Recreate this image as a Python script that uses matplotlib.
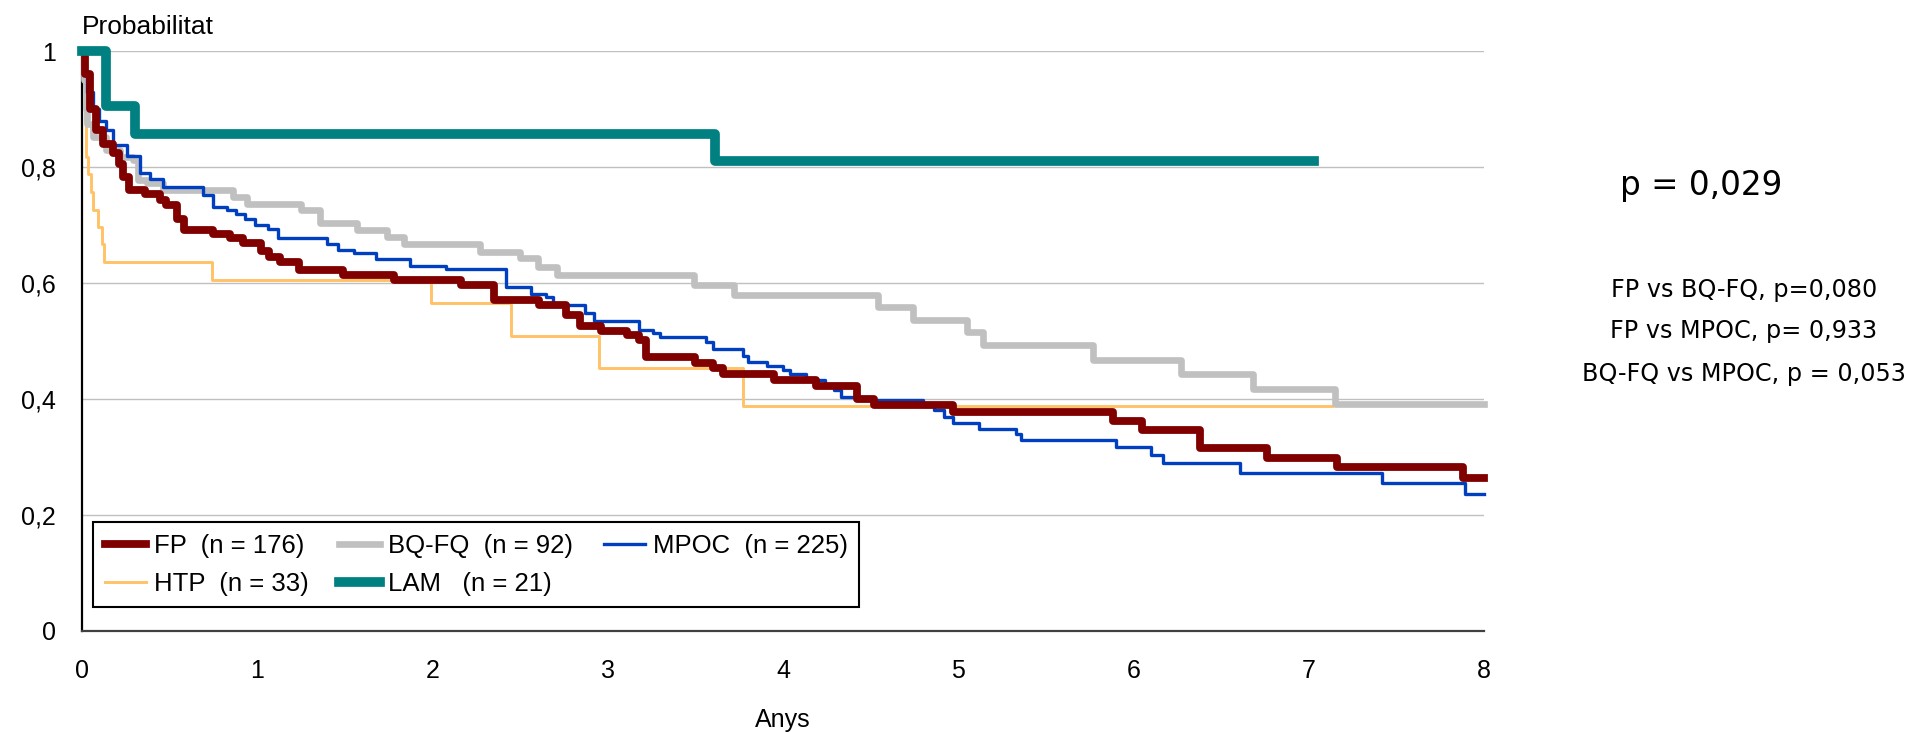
import matplotlib
matplotlib.use('Agg')
import matplotlib.pyplot as plt

# Kaplan-Meier style curves (time in years, survival after each drop)
fp_t = [0, 0.02, 0.045, 0.08, 0.12, 0.18, 0.21, 0.235, 0.27, 0.36, 0.445, 0.48, 0.54, 0.58,
        0.75, 0.845, 0.92, 1.02, 1.07, 1.13, 1.24, 1.49, 1.78, 2.16, 2.35, 2.61, 2.76, 2.84,
        2.96, 3.11, 3.18, 3.22, 3.50, 3.60, 3.66, 3.95, 4.19, 4.42, 4.52, 4.97, 5.88, 6.05,
        6.38, 6.76, 7.16, 7.88, 8.0]
fp_s = [1.0, 0.96, 0.90, 0.864, 0.84, 0.824, 0.806, 0.783, 0.76, 0.753, 0.743, 0.734, 0.71, 0.691,
        0.684, 0.677, 0.670, 0.655, 0.645, 0.637, 0.622, 0.614, 0.605, 0.597, 0.571, 0.562, 0.545, 0.526,
        0.517, 0.510, 0.502, 0.472, 0.463, 0.453, 0.443, 0.433, 0.423, 0.401, 0.390, 0.378, 0.363, 0.347,
        0.316, 0.299, 0.282, 0.264, 0.264]

bq_t = [0, 0.01, 0.025, 0.03, 0.065, 0.14, 0.22, 0.29, 0.32, 0.37, 0.46, 0.86, 0.94, 1.25,
        1.36, 1.57, 1.74, 1.84, 2.27, 2.50, 2.60, 2.71, 3.49, 3.72, 4.54, 4.74, 5.05, 5.14,
        5.77, 6.27, 6.68, 7.15, 8.0]
bq_s = [1.0, 0.95, 0.90, 0.875, 0.852, 0.829, 0.818, 0.812, 0.778, 0.772, 0.760, 0.749, 0.737, 0.726,
        0.703, 0.691, 0.680, 0.667, 0.654, 0.643, 0.628, 0.614, 0.596, 0.579, 0.558, 0.536, 0.516, 0.493,
        0.468, 0.444, 0.418, 0.391, 0.391]

mpoc_t = [0, 0.01, 0.03, 0.065, 0.10, 0.14, 0.18, 0.255, 0.33, 0.39, 0.46, 0.69, 0.75, 0.826,
          0.88, 0.93, 0.99, 1.06, 1.12, 1.40, 1.46, 1.55, 1.68, 1.87, 2.08, 2.42, 2.56, 2.65,
          2.69, 2.87, 2.92, 3.18, 3.26, 3.30, 3.56, 3.60, 3.77, 3.80, 3.91, 4.00, 4.04, 4.13,
          4.24, 4.29, 4.33, 4.42, 4.80, 4.86, 4.92, 4.97, 5.12, 5.33, 5.36, 5.90, 6.10, 6.17,
          6.61, 7.42, 7.89, 8.0]
mpoc_s = [1.0, 0.96, 0.93, 0.90, 0.88, 0.864, 0.838, 0.82, 0.79, 0.78, 0.766, 0.752, 0.732, 0.726,
          0.72, 0.711, 0.70, 0.694, 0.677, 0.668, 0.657, 0.652, 0.641, 0.629, 0.624, 0.594, 0.582, 0.576,
          0.562, 0.548, 0.535, 0.52, 0.514, 0.507, 0.499, 0.486, 0.475, 0.464, 0.457, 0.450, 0.443, 0.433,
          0.424, 0.416, 0.404, 0.398, 0.388, 0.381, 0.369, 0.359, 0.349, 0.339, 0.329, 0.317, 0.303, 0.289,
          0.273, 0.256, 0.236, 0.236]

htp_t = [0, 0.005, 0.015, 0.025, 0.035, 0.05, 0.065, 0.09, 0.115, 0.125, 0.74, 1.99, 2.45,
         2.95, 3.77, 7.13]
htp_s = [1.0, 0.939, 0.879, 0.818, 0.788, 0.758, 0.727, 0.697, 0.667, 0.636, 0.606, 0.566, 0.509,
         0.453, 0.388, 0.388]

lam_t = [0, 0.14, 0.30, 3.61, 7.03]
lam_s = [1.0, 0.905, 0.857, 0.81, 0.81]

labels = ['FP  (n = 176)', 'BQ-FQ  (n = 92)', 'MPOC  (n = 225)', 'HTP  (n = 33)', 'LAM   (n = 21)']
colors = ['#800000', '#C0C0C0', '#0040C0', '#FFC266', '#008080']
widths = [5.6, 4.8, 2.4, 2.1, 7.0]
zorders = [5, 3, 4, 2, 6]

x_ticks = [0, 1, 2, 3, 4, 5, 6, 7, 8]
y_ticks = [0, 0.2, 0.4, 0.6, 0.8, 1.0]
y_ticklabels = ['0', '0,2', '0,4', '0,6', '0,8', '1']

narrow = ['Liberation Sans Narrow', 'Liberation Sans', 'DejaVu Sans']

fig = plt.figure(figsize=(19.14, 7.32), dpi=100)
ax = fig.add_axes([0.0428, 0.138, 0.7326, 0.792])

series = [(fp_t, fp_s), (bq_t, bq_s), (mpoc_t, mpoc_s), (htp_t, htp_s), (lam_t, lam_s)]
handles = []
for (t, s), lab, c, w, z in zip(series, labels, colors, widths, zorders):
    h, = ax.step(t, s, where='post', color=c, lw=w, label=lab, zorder=z, clip_on=False)
    handles.append(h)

ax.set_xlim(0, 8)
ax.set_ylim(0, 1)
ax.set_xticks(x_ticks)
ax.set_yticks(y_ticks)
ax.set_yticklabels(y_ticklabels)
ax.tick_params(length=0, labelsize=18)
ax.tick_params(axis='y', pad=19)
ax.tick_params(axis='x', pad=20)
for lab in ax.get_xticklabels() + ax.get_yticklabels():
    lab.set_family(narrow)
ax.grid(axis='y', color='#C0C0C0', lw=1)
ax.set_axisbelow(True)
for side in ['top', 'right']:
    ax.spines[side].set_visible(False)
ax.spines['left'].set_color('black')
ax.spines['left'].set_linewidth(1.6)
ax.spines['bottom'].set_color('#404040')
ax.spines['bottom'].set_linewidth(1.6)

ax.set_xlabel('Anys', fontsize=18, family=narrow, labelpad=18)
ax.text(0.0, 1.041, 'Probabilitat', transform=ax.transAxes, ha='left', va='center',
        fontsize=19, family='Liberation Sans')

# legend laid out row by row like the original
order = [0, 3, 1, 4, 2]
leg = ax.legend([handles[i] for i in order], [labels[i] for i in order], ncol=3,
                loc='lower left', bbox_to_anchor=(0.008, 0.041), borderaxespad=0,
                fancybox=False, edgecolor='black', framealpha=1, handlelength=1.6,
                handletextpad=0.3, columnspacing=1.2, labelspacing=0.55, borderpad=0.45,
                prop={'family': narrow, 'size': 18.5})
leg.get_frame().set_linewidth(1.5)
leg.set_zorder(10)

fig.text(1701 / 1914, 1 - 186 / 732, 'p = 0,029', ha='center', va='center', fontsize=23.5,
         family='DejaVu Sans')
pairs = ['FP vs BQ-FQ, p=0,080', 'FP vs MPOC, p= 0,933', 'BQ-FQ vs MPOC, p = 0,053']
for txt, yy in zip(pairs, [290, 331, 374]):
    fig.text(1744 / 1914, 1 - yy / 732, txt, ha='center', va='center', fontsize=17.2,
             family='DejaVu Sans')

fig.savefig('out.png', dpi=100)
